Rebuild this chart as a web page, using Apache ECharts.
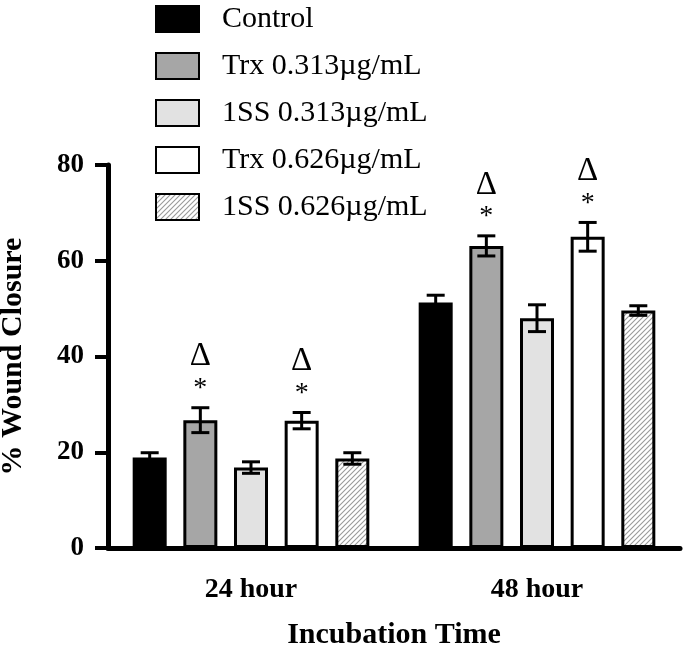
<!DOCTYPE html>
<html>
<head>
<meta charset="utf-8">
<script src="https://cdn.jsdelivr.net/npm/echarts@6/dist/echarts.min.js"></script>
<style>html,body{margin:0;padding:0;background:#fff;}#chart{width:683px;height:646px;}</style>
</head>
<body>
<div id="chart"></div>
<script>
// ---- data ----
const categories = ['24 hour', '48 hour'];
const seriesNames = ['Control', 'Trx 0.313µg/mL', '1SS 0.313µg/mL', 'Trx 0.626µg/mL', '1SS 0.626µg/mL'];
const controlMean = [18.9, 51.3];
const controlErr = [1.0, 1.5];
const trx313Mean = [26.7, 63.1];
const trx313Err = [2.6, 2.1];
const ss313Mean = [16.8, 48.0];
const ss313Err = [1.2, 2.8];
const trx626Mean = [26.6, 65.0];
const trx626Err = [1.7, 3.0];
const ss626Mean = [18.7, 49.6];
const ss626Err = [1.2, 1.0];
const controlSig = [false, false];
const trx313Sig = [true, true];
const ss313Sig = [false, false];
const trx626Sig = [true, true];
const ss626Sig = [false, false];
const yTicks = [0, 20, 40, 60, 80];

const means = [controlMean, trx313Mean, ss313Mean, trx626Mean, ss626Mean];
const errs = [controlErr, trx313Err, ss313Err, trx626Err, ss626Err];
const sigs = [controlSig, trx313Sig, ss313Sig, trx626Sig, ss626Sig];

// ---- styles ----
const FONT = '"Liberation Serif", "Times New Roman", serif';
const BAR_WIDTH = 34;
const BAR_GAP = 0.49;

function hatch() {
  const c = document.createElement('canvas');
  const s = 5;
  c.width = s; c.height = s;
  const g = c.getContext('2d');
  g.fillStyle = '#ffffff';
  g.fillRect(0, 0, s, s);
  g.strokeStyle = '#9a9a9a';
  g.lineWidth = 1.1;
  g.beginPath();
  g.moveTo(-1, s + 1); g.lineTo(s + 1, -1);
  g.moveTo(-1, 1); g.lineTo(1, -1);
  g.moveTo(s - 1, s + 1); g.lineTo(s + 1, s - 1);
  g.stroke();
  return c;
}

const fills = ['#000000', '#a6a6a6', '#e2e2e2', '#ffffff', {image: hatch(), repeat: 'repeat'}];

const barSeries = seriesNames.map((name, i) => ({
  name: name,
  type: 'bar',
  barWidth: BAR_WIDTH,
  barGap: (BAR_GAP * 100) + '%',
  data: means[i],
  itemStyle: {color: fills[i], borderColor: '#000', borderWidth: 3},
  emphasis: {disabled: true},
  z: 2
}));

const errData = [];
means.forEach((m, s) => {
  m.forEach((v, c) => {
    errData.push([c, v, errs[s][c], s, sigs[s][c] ? 1 : 0]);
  });
});

const errSeries = {
  type: 'custom',
  name: 'err',
  data: errData,
  z: 5,
  silent: true,
  renderItem: function (params, api) {
    const cat = api.value(0), mean = api.value(1), err = api.value(2), s = api.value(3), sig = api.value(4);
    const step = BAR_WIDTH * (1 + BAR_GAP);
    const cx = api.coord([cat, mean])[0] + (s - 2) * step;
    const yTop = api.coord([cat, mean + err])[1];
    const yBot = api.coord([cat, mean - err])[1];
    const half = 9;
    const st = {stroke: '#000', lineWidth: 3};
    const children = [
      {type: 'line', shape: {x1: cx, y1: yTop, x2: cx, y2: yBot}, style: st},
      {type: 'line', shape: {x1: cx - half, y1: yTop, x2: cx + half, y2: yTop}, style: st},
      {type: 'line', shape: {x1: cx - half, y1: yBot, x2: cx + half, y2: yBot}, style: st}
    ];
    if (sig) {
      children.push({type: 'text', style: {text: '*', x: cx, y: yTop - 19, align: 'center', verticalAlign: 'middle', font: '28px ' + FONT, fill: '#000'}});
      children.push({type: 'text', style: {text: 'Δ', x: cx, y: yTop - 51, align: 'center', verticalAlign: 'middle', font: '33px ' + FONT, fill: '#000'}});
    }
    return {type: 'group', children: children};
  }
};

const chart = echarts.init(document.getElementById('chart'), null, {renderer: 'canvas'});
chart.setOption({
  animation: false,
  backgroundColor: '#fff',
  textStyle: {fontFamily: FONT},
  legend: {
    data: seriesNames,
    orient: 'vertical',
    left: 155,
    top: 4,
    padding: 0,
    itemWidth: 43,
    itemHeight: 26,
    itemGap: 17,
    icon: 'rect',
    selectedMode: false,
    textStyle: {fontFamily: FONT, fontSize: 30, color: '#000', lineHeight: 27, padding: [0, 0, 0, 18]}
  },
  grid: {left: 108, right: 3, top: 165, bottom: 98, containLabel: false, outerBoundsMode: 'none'},
  xAxis: {
    type: 'category',
    data: categories,
    name: 'Incubation Time',
    nameLocation: 'middle',
    nameGap: 72,
    nameTextStyle: {fontFamily: FONT, fontSize: 30, fontWeight: 'bold', color: '#000'},
    axisLine: {lineStyle: {color: '#000', width: 5}},
    axisTick: {alignWithLabel: true, length: 13, lineStyle: {color: '#000', width: 4}},
    axisLabel: {fontFamily: FONT, fontSize: 28, fontWeight: 'bold', color: '#000', margin: 28}
  },
  yAxis: {
    type: 'value',
    min: 0,
    max: 80,
    interval: 20,
    name: '% Wound Closure',
    nameLocation: 'middle',
    nameGap: 80,
    nameTextStyle: {fontFamily: FONT, fontSize: 30, fontWeight: 'bold', color: '#000'},
    axisLine: {show: true, lineStyle: {color: '#000', width: 5}},
    axisTick: {show: true, length: 13, lineStyle: {color: '#000', width: 4}},
    axisLabel: {fontFamily: FONT, fontSize: 27, fontWeight: 'bold', color: '#000', margin: 24,
      formatter: v => yTicks.indexOf(v) >= 0 ? String(v) : ''},
    splitLine: {show: false}
  },
  series: barSeries.concat([errSeries])
});
</script>
</body>
</html>
